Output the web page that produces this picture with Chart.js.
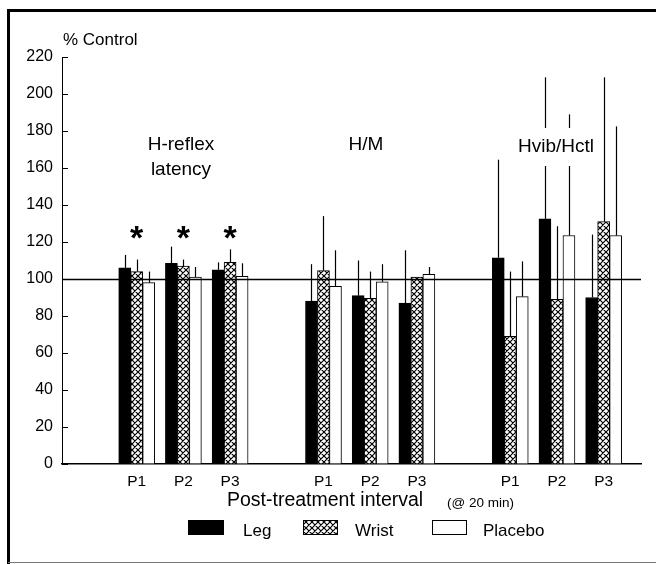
<!DOCTYPE html>
<html>
<head>
<meta charset="utf-8">
<script src="https://cdn.jsdelivr.net/npm/chart.js@4.4.1/dist/chart.umd.min.js"></script>
<style>
  html, body { margin: 0; padding: 0; background: #fff; }
  #wrap { width: 656px; height: 564px; }
</style>
</head>
<body>
<div id="wrap"><canvas id="chart" width="656" height="564"></canvas></div>
<script>
// post-treatment periods, '' = gap between the three measures
const periods = ['P1', 'P2', 'P3', '', 'P1', 'P2', 'P3', '', 'P1', 'P2', 'P3'];
const measures = ['H-reflex latency', 'H/M', 'Hvib/Hctl'];
const seriesNames = ['Leg', 'Wrist', 'Placebo'];
const yTicks = [0, 20, 40, 60, 80, 100, 120, 140, 160, 180, 200, 220];

// % of control (bar height)
const legValues     = [106, 108.5, 105, null, 88, 91, 87, null, 111.5, 132.5, 90];
const wristValues   = [104, 107, 109, null, 104.5, 89.5, 101, null, 69, 89, 131];
const placeboValues = [98, 101, 101.5, null, 96, 98.5, 102.5, null, 90.5, 123.5, 123.5];

// top of the (upper) error bar
const legErr     = [113, 117.5, 109, null, 108, 110, 115.5, null, 164.5, 209, 124];
const wristErr   = [110.5, 110.5, 116, null, 134, 104, 101, null, 104, 128.5, 209];
const placeboErr = [104, 106.5, 108.5, null, 115.5, 108, 106.5, null, 109.5, 189, 182.5];

// significance marks
const significance = ['*', '*', '*', '', '', '', '', '', '', '', ''];
const controlLevel = 100;
const starLevel = 125;

const FONT = "'Liberation Sans', Arial, Helvetica, sans-serif";
Chart.defaults.font.family = FONT;
Chart.defaults.color = '#000';

// cross-hatch fill for the wrist bars
function makeHatch() {
    const c = document.createElement('canvas');
    c.width = 6; c.height = 6;
    const g = c.getContext('2d');
    g.fillStyle = '#fff';
    g.fillRect(0, 0, 6, 6);
    g.strokeStyle = '#000';
    g.lineWidth = 1.2;
    g.beginPath();
    for (const k of [-6, 0, 6]) {
        g.moveTo(k, 0); g.lineTo(k + 6, 6);
        g.moveTo(k + 6, 0); g.lineTo(k, 6);
    }
    g.stroke();
    return g.createPattern(c, 'repeat');
}
const ctx = document.getElementById('chart').getContext('2d');
const hatch = makeHatch();

function series(values, errs) {
    return periods
        .map((p, i) => ({ x: i + 1, y: values[i], err: errs[i] }))
        .filter(d => d.y !== null);
}

function text(c, str, x, y, size, align, weight) {
    c.font = (weight || '') + ' ' + size + 'px ' + FONT;
    c.textAlign = align || 'left';
    c.textBaseline = 'middle';
    c.fillStyle = '#000';
    c.fillText(str, x, y);
}

const decorations = {
    id: 'decorations',
    beforeDraw(chart) {
        const c = chart.ctx;
        c.save();
        c.fillStyle = '#fff';
        c.fillRect(0, 0, chart.width, chart.height);
        // frame of the figure
        c.strokeStyle = '#000';
        c.lineWidth = 3;
        c.beginPath();
        c.moveTo(8.5, 564); c.lineTo(8.5, 10.5); c.lineTo(656, 10.5);
        c.stroke();
        c.strokeStyle = '#777';
        c.lineWidth = 1;
        c.beginPath();
        c.moveTo(8, 562.5); c.lineTo(656, 562.5);
        c.stroke();
        c.restore();
    },
    afterDatasetsDraw(chart) {
        const c = chart.ctx;
        const { x, y } = chart.scales;
        const area = chart.chartArea;
        c.save();

        // upper error bars
        c.strokeStyle = '#000';
        c.lineWidth = 1.2;
        chart.data.datasets.forEach((ds, i) => {
            chart.getDatasetMeta(i).data.forEach((bar, j) => {
                const top = y.getPixelForValue(ds.data[j].err);
                c.beginPath();
                c.moveTo(Math.round(bar.x) + 0.5, bar.y);
                c.lineTo(Math.round(bar.x) + 0.5, top);
                c.stroke();
            });
        });

        // control level
        const y100 = Math.round(y.getPixelForValue(controlLevel)) + 0.5;
        c.lineWidth = 1.5;
        c.beginPath();
        c.moveTo(area.left, y100); c.lineTo(area.right, y100);
        c.stroke();

        // asterisks
        c.font = 'bold 34px ' + FONT;
        c.textAlign = 'center';
        c.textBaseline = 'alphabetic';
        significance.forEach((s, i) => {
            if (!s) return;
            const m = c.measureText(s);
            const cy = y.getPixelForValue(starLevel);
            c.fillText(s, x.getPixelForValue(i + 1), cy + (m.actualBoundingBoxAscent - m.actualBoundingBoxDescent) / 2);
        });

        // measure names
        text(c, 'H-reflex', 181, 145, 19, 'center');
        text(c, 'latency', 181, 170, 19, 'center');
        text(c, measures[1], 366, 145, 19, 'center');
        c.fillStyle = '#fff';
        c.fillRect(514, 128, 85, 38);
        text(c, measures[2], 556, 147, 19, 'center');

        // axis captions
        text(c, '% Control', 63, 40, 17);
        text(c, 'Post-treatment interval', 227, 501, 19.5);
        text(c, '(@ 20 min)', 447, 503, 13.5);

        // legend
        const boxes = [[188, 36], [303, 35], [432, 35]];
        const labelX = [243, 355, 483];
        chart.data.datasets.forEach((ds, i) => {
            c.fillStyle = ds.backgroundColor;
            c.fillRect(boxes[i][0], 520, boxes[i][1], 15);
            c.strokeStyle = '#000';
            c.lineWidth = 1;
            c.strokeRect(boxes[i][0] + 0.5, 520.5, boxes[i][1] - 1, 14);
            text(c, ds.label, labelX[i], 531, 17);
        });
        c.restore();
    }
};

new Chart(ctx, {
    type: 'bar',
    data: {
        datasets: [
            { label: seriesNames[0], data: series(legValues, legErr), backgroundColor: '#000' },
            { label: seriesNames[1], data: series(wristValues, wristErr), backgroundColor: hatch },
            { label: seriesNames[2], data: series(placeboValues, placeboErr), backgroundColor: '#fff' }
        ]
    },
    options: {
        responsive: false,
        animation: false,
        layout: { padding: { left: 8, right: 15, top: 57, bottom: 64 } },
        datasets: {
            bar: { barThickness: 12, borderColor: '#000', borderWidth: 1 }
        },
        plugins: {
            legend: { display: false },
            tooltip: { enabled: false }
        },
        scales: {
            x: {
                type: 'linear',
                min: -0.6,
                max: 11.8,
                offset: false,
                bounds: 'data',
                grid: { display: false, drawTicks: false, tickLength: 0, offset: false },
                border: { display: true, color: '#000', width: 1.5 },
                afterBuildTicks: scale => {
                    scale.ticks = periods
                        .map((p, i) => ({ value: i + 1, label: p }))
                        .filter(t => t.label);
                },
                afterFit: scale => { scale.height = 36; },
                ticks: {
                    autoSkip: false,
                    maxRotation: 0,
                    padding: 8,
                    font: { size: 15.5 },
                    callback: v => periods[v - 1]
                }
            },
            y: {
                min: 0,
                max: 220,
                afterBuildTicks: scale => {
                    scale.ticks = yTicks.map(v => ({ value: v }));
                },
                afterFit: scale => { scale.width = 54; },
                grid: { drawOnChartArea: false, tickLength: -6, color: '#000', lineWidth: 1 },
                border: { display: true, color: '#000', width: 1 },
                ticks: { padding: 15, font: { size: 16 } }
            }
        }
    },
    plugins: [decorations]
});
</script>
</body>
</html>
